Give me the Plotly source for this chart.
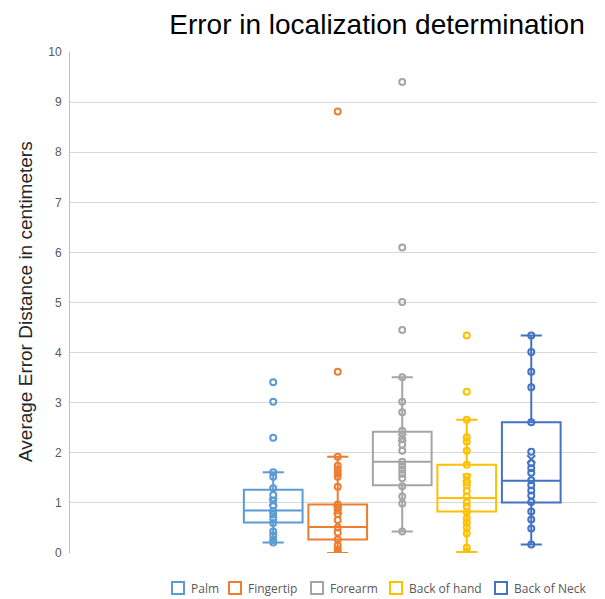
import plotly.graph_objects as go

# ---- data ----
series_names = ["Palm", "Fingertip", "Forearm", "Back of hand", "Back of Neck"]
colors = ["#5B9BD5", "#ED7D31", "#A5A5A5", "#FFC000", "#4472C4"]

palm = [3.41, 3.02, 2.30, 1.61, 1.52, 1.29, 1.16, 1.05, 0.95, 0.84, 0.77, 0.69, 0.60, 0.43, 0.35, 0.26, 0.21]
fingertip = [8.81, 3.62, 1.92, 1.74, 1.66, 1.59, 1.52, 1.32, 0.97, 0.90, 0.85, 0.78, 0.66, 0.51, 0.41, 0.27, 0.15, 0.07, 0.01, 0.0]
forearm = [9.40, 6.10, 5.01, 4.45, 3.51, 3.02, 2.81, 2.44, 2.28, 2.16, 2.04, 1.82, 1.74, 1.66, 1.58, 1.49, 1.33, 1.13, 0.99, 0.43]
back_of_hand = [4.34, 3.22, 2.66, 2.31, 2.22, 2.04, 1.76, 1.52, 1.41, 1.35, 1.24, 1.13, 1.01, 0.93, 0.82, 0.69, 0.61, 0.51, 0.39, 0.11, 0.02]
back_of_neck = [4.34, 4.01, 3.62, 3.31, 2.61, 2.02, 1.79, 1.69, 1.60, 1.45, 1.35, 1.25, 1.15, 1.02, 0.83, 0.67, 0.49, 0.17]
points = [palm, fingertip, forearm, back_of_hand, back_of_neck]

q1 = [0.61, 0.27, 1.35, 0.83, 1.01]
median = [0.85, 0.52, 1.82, 1.10, 1.44]
q3 = [1.26, 0.97, 2.42, 1.76, 2.61]
lower = [0.21, 0.0, 0.43, 0.02, 0.17]
upper = [1.61, 1.92, 3.51, 2.66, 4.34]
means = [1.02, 0.86, 2.30, 1.50, 1.87]

y_ticks = [0, 1, 2, 3, 4, 5, 6, 7, 8, 9, 10]

# ---- layout geometry (pixels) ----
# the page body adds an 8px margin, so the figure is drawn 8px smaller and
# reference pixel positions are shifted by that offset
OFF = 8
W, H = 605 - OFF, 599 - OFF
ML, MR, MT, MB = 70 - OFF, 6, 52 - OFF, 599 - 553
PW, PH = W - ML - MR, H - MT - MB


def px_x(px):
    return (px - OFF - ML) / PW


def px_y(py):
    return (H - MB - (py - OFF)) / PH


fig = go.Figure()

for i, name in enumerate(series_names):
    c = colors[i]
    fig.add_trace(go.Box(
        name=name, x=[i], q1=[q1[i]], median=[median[i]], q3=[q3[i]],
        lowerfence=[lower[i]], upperfence=[upper[i]],
        boxpoints=False, width=0.91, whiskerwidth=0.36,
        line=dict(color=c, width=2), fillcolor="rgba(255,255,255,0)",
        showlegend=False, hoverinfo="skip",
    ))
for i, name in enumerate(series_names):
    c = colors[i]
    fig.add_trace(go.Scatter(
        x=[i] * len(points[i]), y=points[i], mode="markers",
        marker=dict(symbol="circle-open", size=6, color=c, line=dict(width=2, color=c)),
        showlegend=False, hoverinfo="skip",
    ))
    fig.add_trace(go.Scatter(
        x=[i], y=[means[i]], mode="markers",
        marker=dict(symbol="x-thin-open", size=8, color=c, line=dict(width=2, color=c)),
        showlegend=False, hoverinfo="skip",
    ))

# ---- legend drawn as shapes + text (Excel-like compact spacing) ----
legend_icon_left = [171, 228, 310, 389, 494]
shapes = []
annotations = []
for i, name in enumerate(series_names):
    x0 = legend_icon_left[i]
    shapes.append(dict(type="rect", xref="paper", yref="paper",
                       x0=px_x(x0 + 1), x1=px_x(x0 + 13), y0=px_y(594), y1=px_y(582),
                       line=dict(color=colors[i], width=2), fillcolor="white"))
    annotations.append(dict(text=name, x=px_x(x0 + 18), y=px_y(588), xref="paper", yref="paper",
                            xanchor="left", yanchor="middle", showarrow=False,
                            font=dict(family="Open Sans, Liberation Sans", size=12, color="#595959")))

annotations.append(dict(text="Average Error Distance in centimeters", textangle=-90,
                        x=px_x(25), xref="paper", xanchor="center", y=px_y(302), yref="paper",
                        yanchor="middle", showarrow=False,
                        font=dict(family="Liberation Sans, Arial", size=19, color="#262626")))

fig.update_layout(
    width=W, height=H,
    margin=dict(l=ML, r=MR, t=MT, b=MB),
    paper_bgcolor="white", plot_bgcolor="white",
    boxmode="overlay", showlegend=False,
    title=dict(text="Error in localization determination", x=(377 - OFF) / W, xanchor="center",
               y=1 - (24 - OFF) / H, yanchor="middle", yref="container",
               font=dict(family="Liberation Sans, Arial", size=28, color="#000000")),
    xaxis=dict(range=[-3.15, 5.05], showticklabels=False, showgrid=False, zeroline=False,
               ticks="", showline=False, fixedrange=True),
    yaxis=dict(range=[0, 10], tickvals=y_ticks, showgrid=True, gridcolor="#D9D9D9", gridwidth=1,
               zeroline=False, showline=True, linecolor="#BFBFBF", linewidth=1,
               ticks="outside", ticklen=5, tickcolor="rgba(0,0,0,0)",
               tickfont=dict(family="Liberation Sans, Arial", size=12, color="#595959")),
    shapes=shapes,
    annotations=annotations,
)

fig.write_html("out.html")
